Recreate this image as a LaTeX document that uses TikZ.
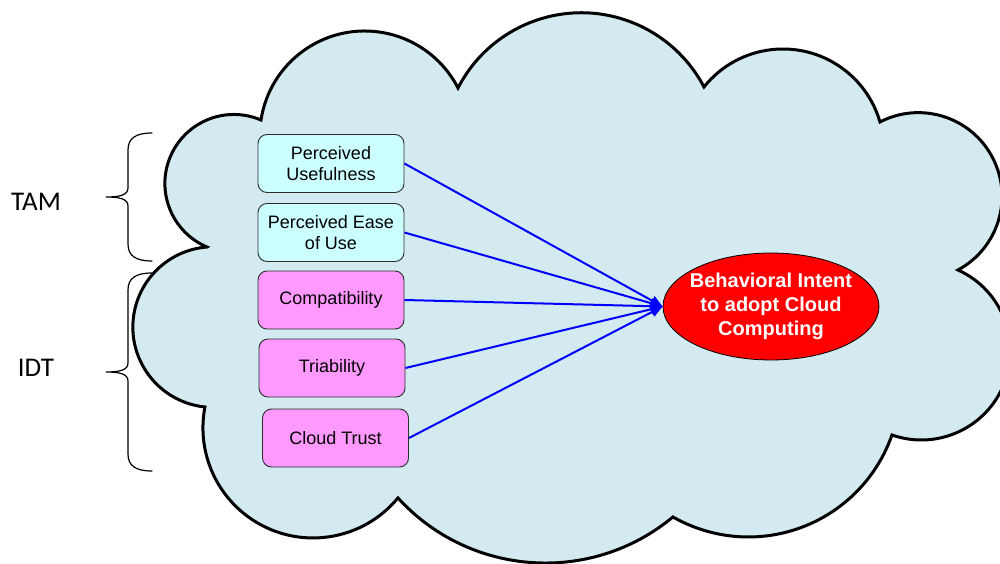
\documentclass[tikz,border=0pt]{standalone}
\usepackage{fontspec}
\setmainfont{Liberation Sans}
\newfontfamily\calibrifont{Carlito}
\usetikzlibrary{shapes.geometric,arrows.meta}
\definecolor{cloudfill}{RGB}{210,234,240}
\definecolor{tamfill}{RGB}{204,255,255}
\definecolor{idtfill}{RGB}{255,153,255}
\definecolor{boxline}{RGB}{45,45,45}
\begin{document}
\begin{tikzpicture}[x=1pt,y=1pt,
  box/.style={draw=boxline, line width=0.9pt, rounded corners=9pt, minimum width=146pt, minimum height=58pt, inner sep=0pt, align=center, font=\fontsize{18pt}{21pt}\selectfont},
  tambox/.style={box, fill=tamfill},
  idtbox/.style={box, fill=idtfill},
  goal/.style={ellipse, draw=black, line width=0.8pt, fill=red, minimum width=216pt, minimum height=107pt, inner sep=0pt},
  goaltext/.style={align=center, text=white, inner sep=0pt, font=\bfseries\fontsize{20pt}{24pt}\selectfont},
  arr/.style={draw=blue, line width=2pt, -{Triangle[length=12pt,width=10pt]}},
  bracestyle/.style={line width=1.2pt, line cap=round},
  side/.style={font=\calibrifont\fontsize{27pt}{32pt}\selectfont},
  cloud/.style={fill=cloudfill, draw=black, line width=3pt, line join=miter}
]
\useasboundingbox (0,0) rectangle (1000,563);
\clip (0,0) rectangle (1000,563);

% cloud
\path[cloud] (207,316)
  arc[start angle=-112.94, end angle=-293.13, radius=69]
  arc[start angle=-188.71, end angle=-332.84, radius=104.9]
  arc[start angle=-207.2, end angle=-332.32, radius=138.59]
  arc[start angle=-218.6, end angle=-343.9, radius=101.0]
  arc[start angle=-242.67, end angle=-421.75, radius=83.65]
  arc[start angle=-294.28, end angle=-469.32, radius=88.94]
  arc[start angle=-19.23, end angle=-119.72, radius=152.1]
  arc[start angle=-50.28, end angle=-137.63, radius=199.6]
  arc[start angle=-39.54, end angle=-190.94, radius=110.1]
  arc[start angle=-95.86, end angle=-265.57, radius=80.3]
  -- cycle;

% braces
\draw[bracestyle] (152,430) .. controls (136,430) and (128,425) .. (128,413) -- (128,375)
  .. controls (128,368) and (120,366) .. (106,366)
  .. controls (120,366) and (128,364) .. (128,357) -- (128,319)
  .. controls (128,307) and (136,302) .. (152,302);
\draw[bracestyle] (152,290) .. controls (136,290) and (128,285) .. (128,273) -- (128,200)
  .. controls (128,193) and (120,191) .. (106,191)
  .. controls (120,191) and (128,189) .. (128,182) -- (128,109)
  .. controls (128,97) and (136,92) .. (152,92);

\node[side] (tam) at (36,361) {TAM};
\node[side] (idt) at (36,195) {IDT};

% boxes
\node[tambox] (pu) at (331,399.5) {Perceived\\Usefulness};
\node[tambox] (peou) at (331,330.5) {Perceived Ease\\of Use};
\node[idtbox] (comp) at (331,263) {Compatibility};
\node[idtbox] (tria) at (332,195) {Triability};
\node[idtbox] (trust) at (335.5,125) {Cloud Trust};

% goal
\node[goal] (bi) at (771,256.5) {};
\node[goaltext] (bitext) at (bi.center) {Behavioral Intent\\to adopt Cloud\\Computing};

% arrows
\draw[arr] (pu.east) -- (bi.west);
\draw[arr] (peou.east) -- (bi.west);
\draw[arr] (comp.east) -- (bi.west);
\draw[arr] (tria.east) -- (bi.west);
\draw[arr] (trust.east) -- (bi.west);
\end{tikzpicture}
\end{document}
